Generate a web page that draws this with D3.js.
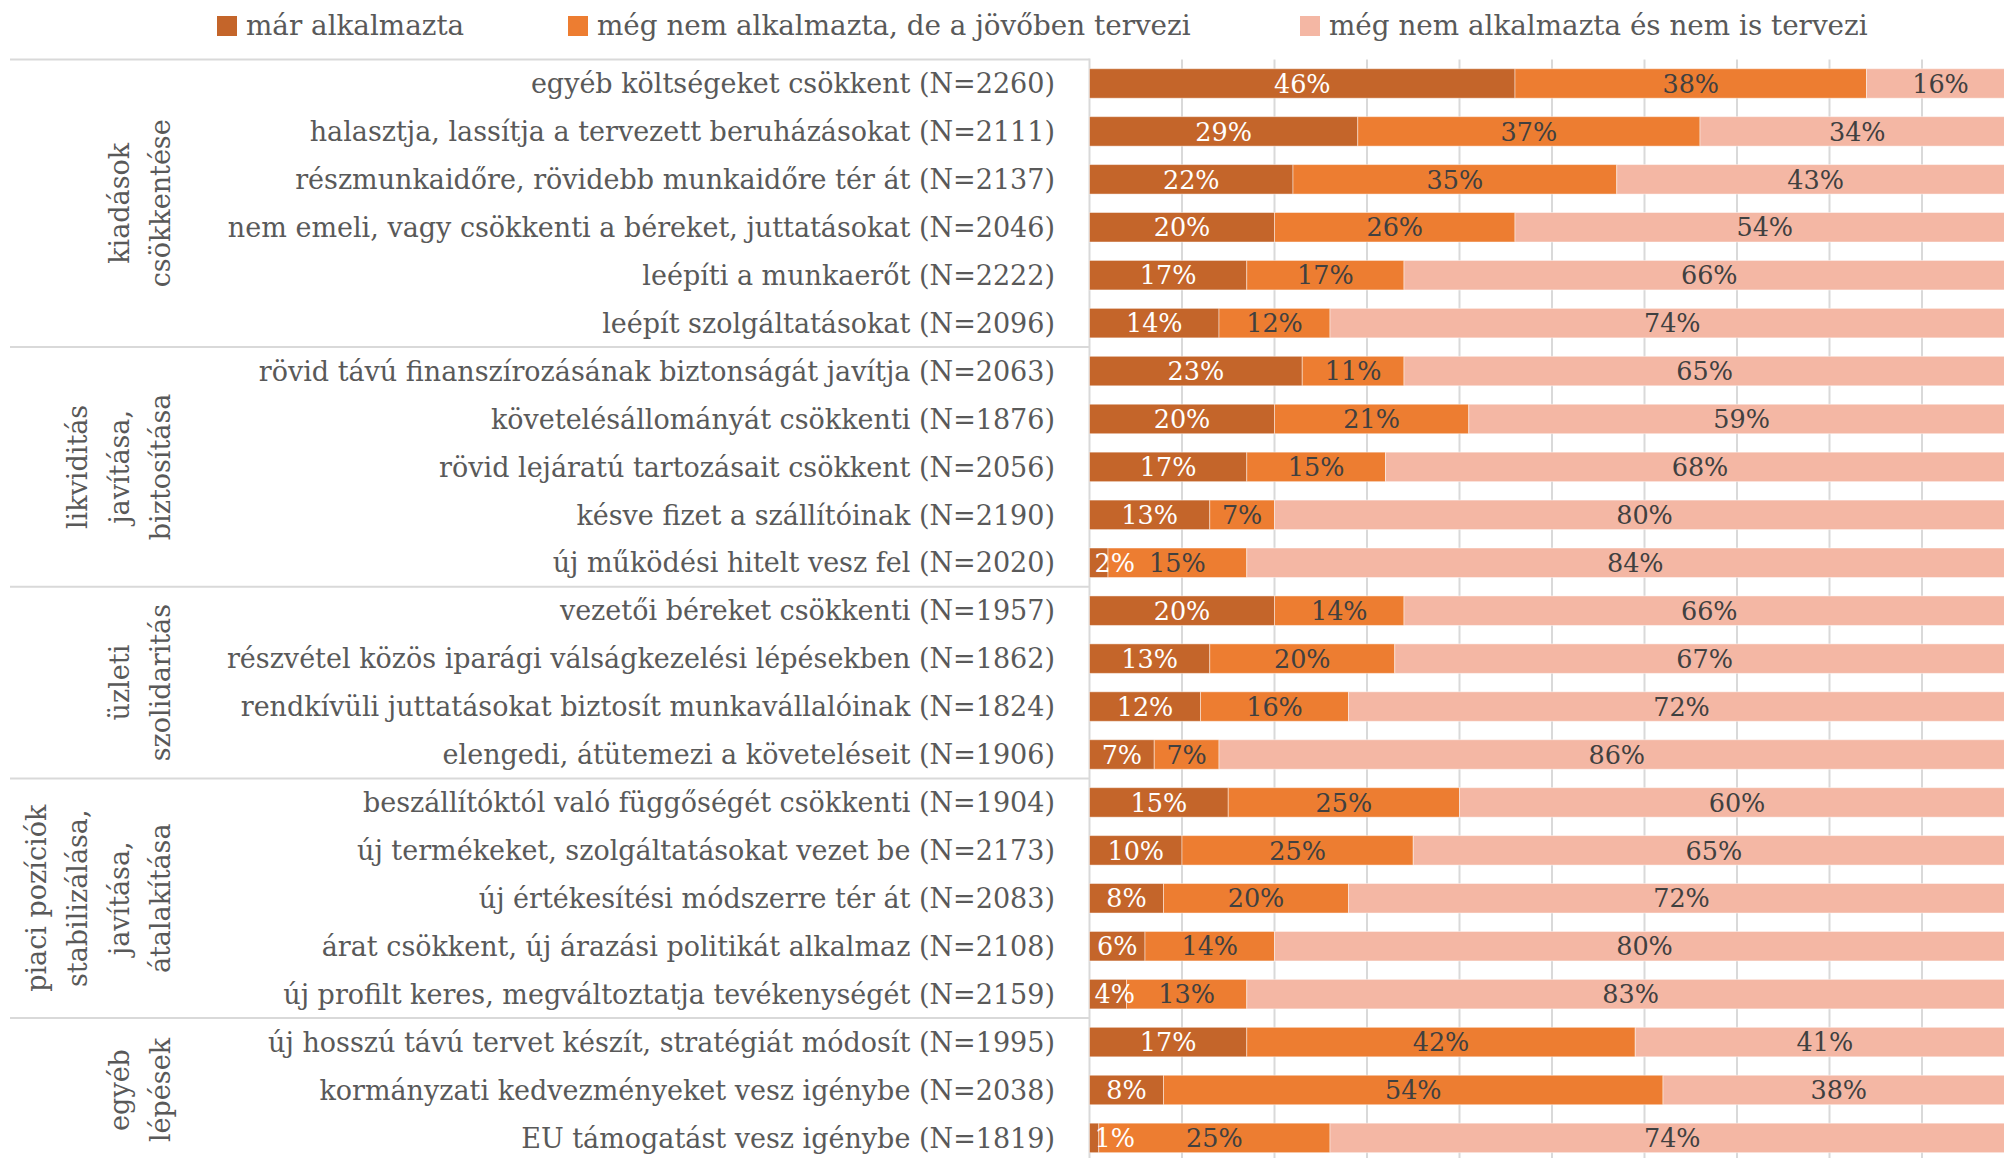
<!DOCTYPE html>
<html>
<head>
<meta charset="utf-8">
<script src="https://cdn.jsdelivr.net/npm/d3@7"></script>
<style>
  html, body { margin: 0; padding: 0; background: #fff; }
  svg { display: block; font-family: "DejaVu Serif", serif; }
</style>
</head>
<body>
<svg id="chart"></svg>
<script>
// row labels, top to bottom
const categories = [
  "egyéb költségeket csökkent (N=2260)",
  "halasztja, lassítja a tervezett beruházásokat (N=2111)",
  "részmunkaidőre, rövidebb munkaidőre tér át (N=2137)",
  "nem emeli, vagy csökkenti a béreket, juttatásokat (N=2046)",
  "leépíti a munkaerőt (N=2222)",
  "leépít szolgáltatásokat (N=2096)",
  "rövid távú finanszírozásának biztonságát javítja (N=2063)",
  "követelésállományát csökkenti (N=1876)",
  "rövid lejáratú tartozásait csökkent (N=2056)",
  "késve fizet a szállítóinak (N=2190)",
  "új működési hitelt vesz fel (N=2020)",
  "vezetői béreket csökkenti (N=1957)",
  "részvétel közös iparági válságkezelési lépésekben (N=1862)",
  "rendkívüli juttatásokat biztosít munkavállalóinak (N=1824)",
  "elengedi, átütemezi a követeléseit (N=1906)",
  "beszállítóktól való függőségét csökkenti (N=1904)",
  "új termékeket, szolgáltatásokat vezet be (N=2173)",
  "új értékesítési módszerre tér át (N=2083)",
  "árat csökkent, új árazási politikát alkalmaz (N=2108)",
  "új profilt keres, megváltoztatja tevékenységét (N=2159)",
  "új hosszú távú tervet készít, stratégiát módosít (N=1995)",
  "kormányzati kedvezményeket vesz igénybe (N=2038)",
  "EU támogatást vesz igénybe (N=1819)"
];

const marAlkalmazta = [46, 29, 22, 20, 17, 14, 23, 20, 17, 13, 2, 20, 13, 12, 7, 15, 10, 8, 6, 4, 17, 8, 1];
const tervezi       = [38, 37, 35, 26, 17, 12, 11, 21, 15, 7, 15, 14, 20, 16, 7, 25, 25, 20, 14, 13, 42, 54, 25];
const nemTervezi    = [16, 34, 43, 54, 66, 74, 65, 59, 68, 80, 84, 66, 67, 72, 86, 60, 65, 72, 80, 83, 41, 38, 74];

const seriesNames = [
  "már alkalmazta",
  "még nem alkalmazta, de a jövőben tervezi",
  "még nem alkalmazta és nem is tervezi"
];

// group labels (lines) and how many rows each covers
const groupLines = [
  ["kiadások", "csökkentése"],
  ["likviditás", "javítása,", "biztosítása"],
  ["üzleti", "szolidaritás"],
  ["piaci pozíciók", "stabilizálása,", "javítása,", "átalakítása"],
  ["egyéb", "lépések"]
];
const groupSizes = [6, 5, 4, 5, 3];

const colors = ["#C4652A", "#ED7D31", "#F4B7A4"];
const labelColors = ["#ffffff", "#404040", "#404040"];

const W = 2004, H = 1158;
const plotLeft = 1089.5, plotRight = 2014.5;
const plotTop = 59.5, rowStep = 47.93;
const gridColor = "#d9d9d9";

const svg = d3.select("#chart").attr("width", W).attr("height", H);

const data = categories.map((c, i) => ({
  cat: c, a: marAlkalmazta[i], b: tervezi[i], c2: nemTervezi[i]
}));
const keys = ["a", "b", "c2"];

const x = d3.scaleLinear().domain([0, 100]).range([plotLeft, plotRight]);
const pad = 1 - 29.5 / rowStep;
const y = d3.scaleBand()
  .domain(categories)
  .range([plotTop, plotTop + rowStep * categories.length])
  .paddingInner(pad)
  .paddingOuter(pad / 2);

// legend
const legendX = [217, 568, 1300];
const legend = svg.append("g");
seriesNames.forEach((name, i) => {
  legend.append("rect")
    .attr("x", legendX[i]).attr("y", 16)
    .attr("width", 20).attr("height", 20)
    .attr("fill", colors[i]);
  legend.append("text")
    .attr("x", legendX[i] + 29).attr("y", 35)
    .attr("font-size", 27.8)
    .attr("fill", "#595959")
    .text(name);
});

// vertical gridlines every 10%
svg.append("g")
  .selectAll("line")
  .data(d3.range(10, 101, 10))
  .join("line")
    .attr("x1", d => x(d)).attr("x2", d => x(d))
    .attr("y1", plotTop).attr("y2", H)
    .attr("stroke", gridColor).attr("stroke-width", 2);

// axis frame on the left: top line, vertical axis, group separators
const bounds = [0];
groupSizes.forEach(s => bounds.push(bounds[bounds.length - 1] + s));
const frame = svg.append("g");
frame.selectAll("line.sep")
  .data(bounds.slice(0, -1))
  .join("line")
    .attr("class", "sep")
    .attr("x1", 10).attr("x2", plotLeft)
    .attr("y1", d => plotTop + d * rowStep).attr("y2", d => plotTop + d * rowStep)
    .attr("stroke", gridColor).attr("stroke-width", 2);
frame.append("line")
  .attr("x1", plotLeft).attr("x2", plotLeft)
  .attr("y1", plotTop - 1).attr("y2", H)
  .attr("stroke", gridColor).attr("stroke-width", 2);

// stacked bars
const stacked = d3.stack().keys(keys)(data);
const layers = svg.append("g")
  .selectAll("g")
  .data(stacked)
  .join("g")
    .attr("fill", (d, i) => colors[i]);

layers.selectAll("rect")
  .data(d => d)
  .join("rect")
    .attr("x", d => x(d[0]))
    .attr("y", d => y(d.data.cat))
    .attr("width", d => x(d[1]) - x(d[0]))
    .attr("height", y.bandwidth())
    .attr("stroke", "#fff")
    .attr("stroke-opacity", 0.45)
    .attr("stroke-width", 1);

// value labels
stacked.forEach((layer, li) => {
  svg.append("g")
    .selectAll("text")
    .data(layer)
    .join("text")
      .attr("y", d => y(d.data.cat) + y.bandwidth() / 2)
      .attr("dy", "0.36em")
      .attr("text-anchor", "middle")
      .attr("font-size", 25.5)
      .attr("fill", labelColors[li])
      .text(d => (d[1] - d[0]) + "%")
      .attr("x", function(d) {
        const w = this.getComputedTextLength();
        const cx = (x(d[0]) + x(d[1])) / 2;
        return Math.max(cx, plotLeft + 5 + w / 2);
      });
});

// row labels
svg.append("g")
  .selectAll("text")
  .data(categories)
  .join("text")
    .attr("x", 1055)
    .attr("y", d => y(d) + y.bandwidth() / 2)
    .attr("dy", "0.36em")
    .attr("text-anchor", "end")
    .attr("font-size", 27)
    .attr("fill", "#595959")
    .text(d => d);

// rotated group labels
const lineGap = 41.5, lastLineX = 170;
groupLines.forEach((lines, gi) => {
  const cy = plotTop + (bounds[gi] + groupSizes[gi] / 2) * rowStep;
  lines.forEach((ln, li) => {
    const bx = lastLineX - (lines.length - 1 - li) * lineGap;
    svg.append("text")
      .attr("transform", `translate(${bx},${cy}) rotate(-90)`)
      .attr("text-anchor", "middle")
      .attr("font-size", 27)
      .attr("fill", "#595959")
      .text(ln);
  });
});
</script>
</body>
</html>
